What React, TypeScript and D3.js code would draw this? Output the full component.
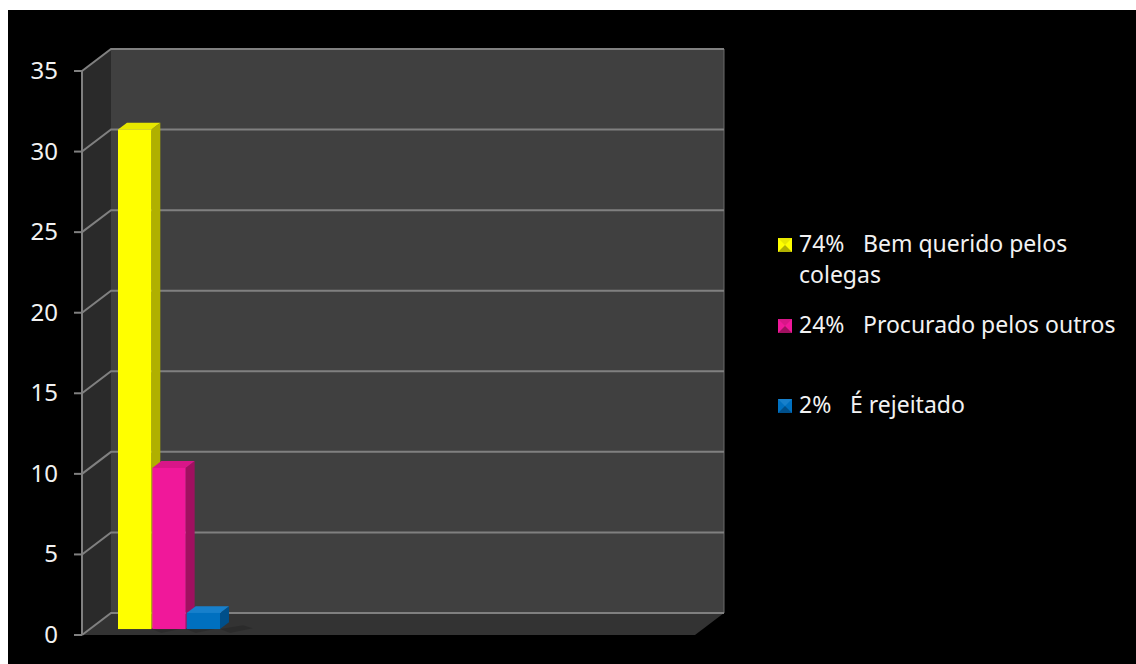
import React from "react";
import * as d3 from "d3";

const categories = ["Bem querido pelos colegas", "Procurado pelos outros", "É rejeitado"];
const percents = ["74%", "24%", "2%"];
const values = [31, 10, 1];
const labelLines = [["Bem querido pelos", "colegas"], ["Procurado pelos outros"], ["É rejeitado"]];
const yTicks = [0, 5, 10, 15, 20, 25, 30, 35];

const frontColors = ["#ffff00", "#f0189a", "#0070c0"];
const topColors = ["#e8e800", "#d81688", "#1780cc"];
const sideColors = ["#b0b000", "#a01060", "#004f8a"];

export default function App() {
  const W = 1136, H = 664;
  const frontX = 82, backX = 724;
  const DX = 29, DY = -22;
  const y = d3.scaleLinear().domain([0, 35]).range([635, 71]);
  const x = d3.scaleBand<string>().domain(categories).range([118, 220]).paddingInner(0.03);
  const barF = 0.27;
  const barD = 0.31;
  const bdx = DX * barD, bdy = DY * barD;
  const offY = DY * barF;
  const font = "'Noto Sans', sans-serif";
  const pts = (a: number[][]) => a.map((p) => p.join(",")).join(" ");

  const legendY = [252, 333, 413];
  const labelX = [863, 863, 850];

  return (
    <svg width={W} height={H} style={{ position: "absolute", left: 0, top: 0 }}>
      <rect x={0} y={0} width={W} height={H} fill="#ffffff" />
      <rect x={8} y={10} width={W - 8} height={H - 10} fill="#000000" />
      <polygon points={pts([[frontX, y(35)], [frontX + DX, y(35) + DY], [frontX + DX, y(0) + DY], [frontX, y(0)]])} fill="#2a2a2a" />
      <rect x={frontX + DX} y={y(35) + DY} width={backX - frontX - DX} height={y(0) - y(35)} fill="#404040" />
      <polygon points={pts([[frontX, y(0)], [frontX + DX, y(0) + DY], [backX, y(0) + DY], [backX - DX, y(0)]])} fill="#333333" />
      <line x1={backX} x2={backX} y1={y(35) + DY} y2={y(0) + DY} stroke="#6a6a6a" strokeWidth={1} />
      {yTicks.map((t) => (
        <g key={t}>
          <polyline
            points={pts([[frontX, y(t)], [frontX + DX, y(t) + DY], [backX, y(t) + DY]])}
            fill="none"
            stroke="#808080"
            strokeWidth={2}
          />
          <line x1={frontX - 8} x2={frontX} y1={y(t)} y2={y(t)} stroke="#808080" strokeWidth={2} />
          <text x={58} y={y(t) + 8} textAnchor="end" fill="#f2f2f2" fontFamily={font} fontSize={24}>
            {t}
          </text>
        </g>
      ))}
      <line x1={frontX} x2={frontX} y1={y(35)} y2={y(0)} stroke="#808080" strokeWidth={2} />
      {categories.map((c, i) => {
        const x0 = x(c)!;
        const w = x.bandwidth();
        const yb = y(0) + offY;
        const yt = y(values[i]) + offY;
        return (
          <g key={c}>
            <polygon points={pts([[x0 + w, yb], [x0 + w + bdx + 14, yb + bdy + 3], [x0 + w + bdx + 24, yb + bdy + 6], [x0 + w + 10, yb + 4]])} fill="#000" opacity={0.15} />
            <polygon points={pts([[x0 + w, yt], [x0 + w + bdx, yt + bdy], [x0 + w + bdx, yb + bdy], [x0 + w, yb]])} fill={sideColors[i]} />
            <polygon points={pts([[x0, yt], [x0 + bdx, yt + bdy], [x0 + w + bdx, yt + bdy], [x0 + w, yt]])} fill={topColors[i]} />
            <rect x={x0} y={yt} width={w} height={yb - yt} fill={frontColors[i]} />
          </g>
        );
      })}
      {categories.map((c, i) => {
        const cy = legendY[i] - 7;
        const s = 14, lx = 778;
        const top = cy - s / 2;
        return (
          <g key={"lg" + c}>
            <rect x={lx} y={top} width={s} height={s} fill={frontColors[i]} />
            <polygon points={pts([[lx, top], [lx + s, top], [lx + s / 2, top + s / 2]])} fill={topColors[i]} />
            <polygon points={pts([[lx, top + s], [lx + s, top + s], [lx + s / 2, top + s / 2]])} fill={sideColors[i]} />
            <text x={799} y={legendY[i]} fill="#f2f2f2" fontFamily={font} fontSize={23}>
              {percents[i]}
            </text>
            {labelLines[i].map((ln, j) => (
              <text key={j} x={j === 0 ? labelX[i] : 799} y={legendY[i] + j * 31} fill="#f2f2f2" fontFamily={font} fontSize={23}>
                {ln}
              </text>
            ))}
          </g>
        );
      })}
    </svg>
  );
}
